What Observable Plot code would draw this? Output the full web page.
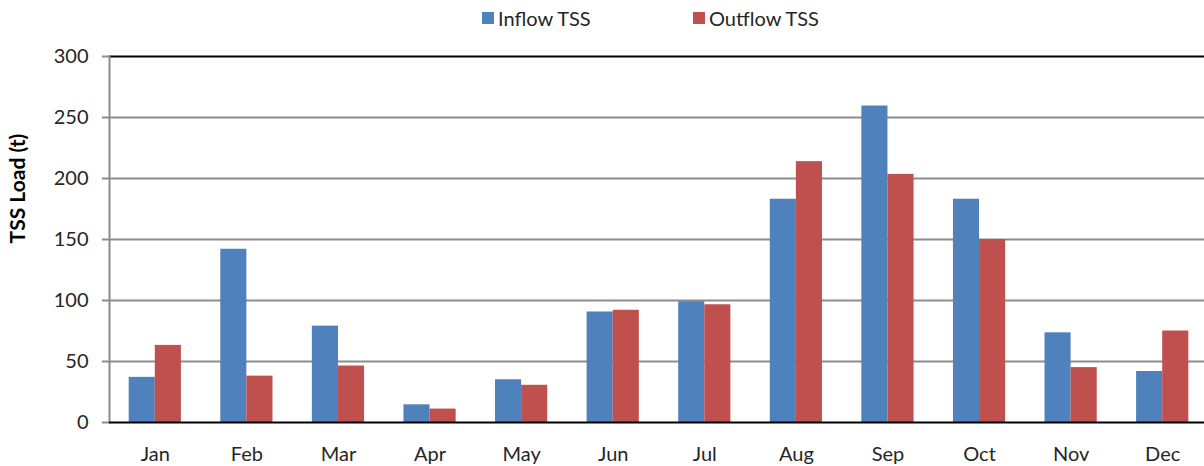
<!DOCTYPE html>
<html>
<head>
<meta charset="utf-8">
<script src="https://cdn.jsdelivr.net/npm/d3@7"></script>
<script src="https://cdn.jsdelivr.net/npm/@observablehq/plot@0.6"></script>
<style>
  body { margin: 0; background: #fff; font-family: Lato, "Open Sans", sans-serif; color: #262626; }
  #legend { position: relative; height: 36px; width: 1204px; font-size: 20px; }
  .item { position: absolute; top: 0; height: 36px; display: flex; align-items: center; }
  .sw { width: 12px; height: 12px; margin-right: 4px; }
  #chart svg { display: block; overflow: hidden; }
</style>
</head>
<body>
<div id="legend"></div>
<div id="chart"></div>
<script>
const months = ["Jan","Feb","Mar","Apr","May","Jun","Jul","Aug","Sep","Oct","Nov","Dec"];
const seriesNames = ["Inflow TSS", "Outflow TSS"];
const seriesColors = ["#4F81BD", "#C0504D"];
const inflow  = [37, 142, 79, 14.5, 35, 90.6, 99, 183, 259.4, 183, 73.5, 41.8];
const outflow = [63.2, 38, 46.3, 11, 30.5, 92, 96.5, 213.8, 203.4, 150, 45, 75];
const yTicks = [0, 50, 100, 150, 200, 250, 300];
const gridTicks = [50, 100, 150, 200, 250];

const inflowData = months.map((m, i) => ({month: m, series: seriesNames[0], value: inflow[i]}));
const outflowData = months.map((m, i) => ({month: m, series: seriesNames[1], value: outflow[i]}));

// legend
const legend = document.getElementById("legend");
const legendLeft = [482, 693];
seriesNames.forEach((s, i) => {
  const it = document.createElement("div");
  it.className = "item";
  it.style.left = legendLeft[i] + "px";
  it.innerHTML = `<div class="sw" style="background:${seriesColors[i]}"></div><span>${s}</span>`;
  legend.appendChild(it);
});

const W = 1204, ML = 109, MR = -4, PAD = 0.43;
const step = (W - ML - MR) / months.length;
const half = step * (1 - PAD) / 2;

const chart = Plot.plot({
  width: W,
  height: 430,
  marginTop: 20,
  marginBottom: 44,
  marginLeft: ML,
  marginRight: MR,
  style: {fontFamily: "Lato, 'Open Sans', sans-serif", fontSize: "20px", color: "#262626", background: "#fff"},
  x: {domain: months, paddingInner: PAD, paddingOuter: PAD / 2, round: false, axis: null},
  y: {domain: [0, 300], axis: null},
  color: {domain: seriesNames, range: seriesColors},
  marks: [
    Plot.ruleY(gridTicks, {stroke: "#8c8c8c", strokeWidth: 2}),
    Plot.barY(inflowData, {x: "month", y: "value", fill: "series", insetRight: half}),
    Plot.barY(outflowData, {x: "month", y: "value", fill: "series", insetLeft: half}),
    Plot.ruleY([300], {stroke: "#000", strokeWidth: 2}),
    Plot.frame({anchor: "left", stroke: "#8c8c8c", strokeWidth: 2}),
    Plot.ruleY([0], {stroke: "#000", strokeWidth: 2}),
    Plot.axisY({ticks: yTicks, tickSize: 7, tickPadding: 14, stroke: "#8c8c8c", strokeWidth: 2, label: null, fontSize: 20, fill: "#262626"}),
    Plot.axisX({tickSize: 0, tickPadding: 24, label: null, fontSize: 20, fill: "#262626"}),
    Plot.text(["TSS Load (t)"], {frameAnchor: "left", textAnchor: "middle", rotate: -90, dx: -91, dy: -51, fontWeight: "bold", fontSize: 21, fill: "#000"})
  ]
});
document.getElementById("chart").appendChild(chart);
</script>
</body>
</html>
